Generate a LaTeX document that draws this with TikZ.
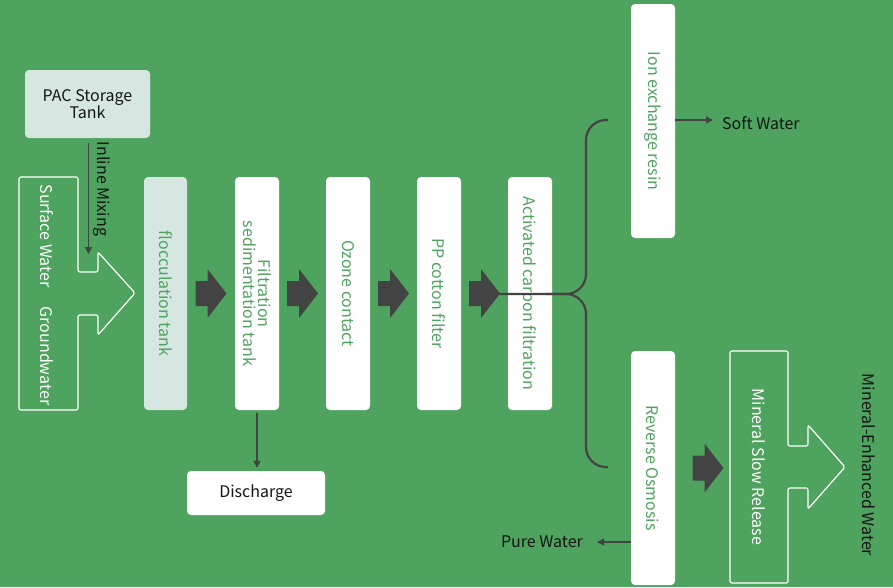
\documentclass[tikz,border=0pt]{standalone}
\usepackage{fontspec}
\setmainfont{Noto Sans CJK SC}
\usetikzlibrary{arrows.meta,calc}
\definecolor{bg}{HTML}{4EA35F}
\definecolor{lightc}{HTML}{D6E7E1}
\definecolor{txtg}{HTML}{4EA35F}
\definecolor{darkc}{HTML}{434343}
\definecolor{blk}{HTML}{151515}
\tikzset{
  box/.style={fill=white, rounded corners=4pt, inner sep=0pt, draw=none},
  vbox/.style={box, minimum width=44pt, minimum height=233pt},
  vlabel/.style={rotate=-90, text=txtg, align=center, inner sep=0pt},
  conn/.style={draw=darkc, line width=1.5pt, -{Triangle[length=7pt,width=7pt]}},
  bracketline/.style={draw=darkc, line width=2.2pt, rounded corners=20pt},
  outlinearrow/.style={draw=white, line width=1.2pt, rounded corners=2pt},
  fatarrow/.pic={\fill[darkc] (-15.5,-12.5) -- (-3.5,-12.5) -- (-3.5,-24.5) -- (15.5,0) -- (-3.5,24.5) -- (-3.5,12.5) -- (-15.5,12.5) -- cycle;}
}
\begin{document}
\begin{tikzpicture}[x=1pt,y=-1pt,font=\fontsize{16}{15}\selectfont]
\fill[bg] (0,0) rectangle (893,587);
\useasboundingbox (0,0) rectangle (893,587);

% PAC tank
\node[box, fill=lightc, minimum width=125pt, minimum height=68pt, text=blk, align=center, font=\fontsize{16}{14}\selectfont] (pac) at (87.5,104) {PAC Storage\\Tank};
\coordinate (mixend) at (88.5,254);
\draw[conn] ($(pac.south)+(1,5)$) -- (mixend);
\node[rotate=-90, text=blk, inner sep=0pt] (mixlbl) at (102,189) {Inline Mixing};

% source arrow
\draw[outlinearrow] (19,177) -- (78,177) -- (78,272) -- (98,272) -- (98,252) -- (135,293) -- (98,335) -- (98,315) -- (78,315) -- (78,410) -- (19,410) -- cycle;
\node[rotate=-90, text=white, inner sep=0pt] (sw) at (47,236) {Surface Water};
\node[rotate=-90, text=white, inner sep=0pt] (gw) at (47,356) {Groundwater};

% process boxes
\node[vbox, fill=lightc, minimum width=43pt] (flocc) at (165.5,293.5) {};
\node[vlabel] at (flocc) {flocculation tank};
\node[vbox] (filt) at (257,293.5) {};
\node[vlabel] at (filt) {Filtration\\sedimentation tank};
\node[vbox] (ozone) at (348,293.5) {};
\node[vlabel] at (ozone) {Ozone contact};
\node[vbox] (pp) at (439,293.5) {};
\node[vlabel] at (pp) {PP cotton filter};
\node[vbox] (ac) at (530,293.5) {};
\node[vlabel] at (ac) {Activated carbon filtration};

\pic at ($(flocc.east)!0.5!(filt.west)$) {fatarrow};
\pic at ($(filt.east)!0.5!(ozone.west)$) {fatarrow};
\pic at ($(ozone.east)!0.5!(pp.west)$) {fatarrow};
\pic at ($(pp.east)!0.5!(ac.west)$) {fatarrow};

% discharge
\node[box, minimum width=138pt, minimum height=44pt, text=blk] (dis) at (256,493) {Discharge};
\draw[conn, shorten <=3pt, shorten >=3pt] (filt.south) -- (filt.south |- dis.north);

% branches
\node[vbox, minimum height=234pt] (ion) at (653,121) {};
\node[vlabel] at (ion) {Ion exchange resin};
\node[vbox, minimum height=234pt] (ro) at (653,468) {};
\node[vlabel] at (ro) {Reverse Osmosis};

\coordinate (split) at (499,294);
\coordinate (ionin) at (608,120);
\coordinate (roin) at (608,467);
\draw[bracketline] (split) -- (586,294) -- (586,120) -- (ionin);
\draw[bracketline] (546,294) -- (586,294) -- (586,467) -- (roin);

\node[text=blk, anchor=west, inner sep=0pt] (soft) at (722,123) {Soft Water};
\draw[conn] (ion.east |- 0,120) -- (713,120);
\node[text=blk, anchor=east, inner sep=0pt] (pure) at (583,542) {Pure Water};
\draw[conn] (ro.west |- 0,542) -- (597,542);

% mineral
\draw[outlinearrow] (730,351) -- (788,351) -- (788,446) -- (808,446) -- (808,425) -- (845,467) -- (808,509) -- (808,488) -- (788,488) -- (788,583) -- (730,583) -- cycle;
\node[rotate=-90, text=white, inner sep=0pt] (min) at (759,467) {Mineral Slow Release};
\pic at (708,468) {fatarrow};
\node[rotate=-90, text=blk, inner sep=0pt] (mew) at (869,465) {Mineral-Enhanced Water};
\end{tikzpicture}
\end{document}
